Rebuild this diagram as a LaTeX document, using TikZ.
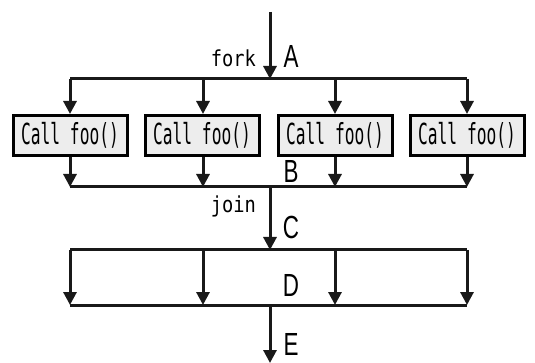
\documentclass[tikz,border=0pt]{standalone}
\usepackage{fontspec}
\usepackage{tikz}
\usetikzlibrary{arrows.meta}
\newfontfamily\callfont[FakeStretch=0.56]{DejaVu Sans Mono}
\newfontfamily\tagfont[FakeStretch=0.85]{DejaVu Sans Mono}
\newfontfamily\stagefont[FakeStretch=0.7]{Liberation Sans}
\tikzset{
  >={Triangle[length=13pt,width=13pt]},
  flow/.style={line width=3pt, color=black!90},
  call/.style={draw, line width=3pt, fill=black!7, inner sep=0pt,
    minimum width=114pt, minimum height=40pt,
    font=\callfont\fontsize{29}{29}\selectfont},
  stage/.style={inner sep=0pt, font=\stagefont\fontsize{32}{32}\selectfont},
  tag/.style={inner sep=0pt, font=\tagfont\fontsize{22}{22}\selectfont}
}

\begin{document}
\begin{tikzpicture}[x=1pt, y=-1pt]
  \useasboundingbox (0,0) rectangle (535,363);

  % fork
  \coordinate (top) at (270,12);
  \coordinate (f) at (270,79);
  \coordinate (f1) at (70,79);
  \coordinate (f2) at (203,79);
  \coordinate (f3) at (335,79);
  \coordinate (f4) at (467,79);
  \node [call] (c1) at (70,135.5) {Call foo()};
  \node [call] (c2) at (202,135.5) {Call foo()};
  \node [call] (c3) at (335,135.5) {Call foo()};
  \node [call] (c4) at (467,135.5) {Call foo()};
  \draw [flow, ->] (top) -- (f);
  \draw [flow] (f1) -- (f4);
  \draw [flow, ->] (f1) -- (c1);
  \draw [flow, ->] (f2) -- (c2.north -| f2);
  \draw [flow, ->] (f3) -- (c3.north -| f3);
  \draw [flow, ->] (f4) -- (c4);

  % join
  \coordinate (j1) at (70,187);
  \coordinate (j2) at (203,187);
  \coordinate (j3) at (335,187);
  \coordinate (j4) at (467,187);
  \coordinate (j) at (270,187);
  \draw [flow, ->] (c1) -- (j1);
  \draw [flow, ->] (c2.south -| j2) -- (j2);
  \draw [flow, ->] (c3.south -| j3) -- (j3);
  \draw [flow, ->] (c4) -- (j4);
  \draw [flow] (j1) -- (j4);

  % second split, no work in between
  \coordinate (s) at (270,250);
  \coordinate (s1) at (70,250);
  \coordinate (s2) at (203,250);
  \coordinate (s3) at (335,250);
  \coordinate (s4) at (467,250);
  \coordinate (m1) at (70,305);
  \coordinate (m2) at (203,305);
  \coordinate (m3) at (335,305);
  \coordinate (m4) at (467,305);
  \coordinate (m) at (270,305);
  \coordinate (bottom) at (270,363);
  \draw [flow, ->] (j) -- (s);
  \draw [flow] (s1) -- (s4);
  \draw [flow, ->] (s1) -- (m1);
  \draw [flow, ->] (s2) -- (m2);
  \draw [flow, ->] (s3) -- (m3);
  \draw [flow, ->] (s4) -- (m4);
  \draw [flow] (m1) -- (m4);
  \draw [flow, ->] (m) -- (bottom);

  % labels
  \node [tag, anchor=east] (fork) at (256,58) {fork};
  \node [tag, anchor=east] (join) at (256,206) {join};
  \node [stage] (A) at (291,56) {A};
  \node [stage] (B) at (291,171) {B};
  \node [stage] (C) at (291,227) {C};
  \node [stage] (D) at (291,285) {D};
  \node [stage] (E) at (291,344) {E};
\end{tikzpicture}
\end{document}
